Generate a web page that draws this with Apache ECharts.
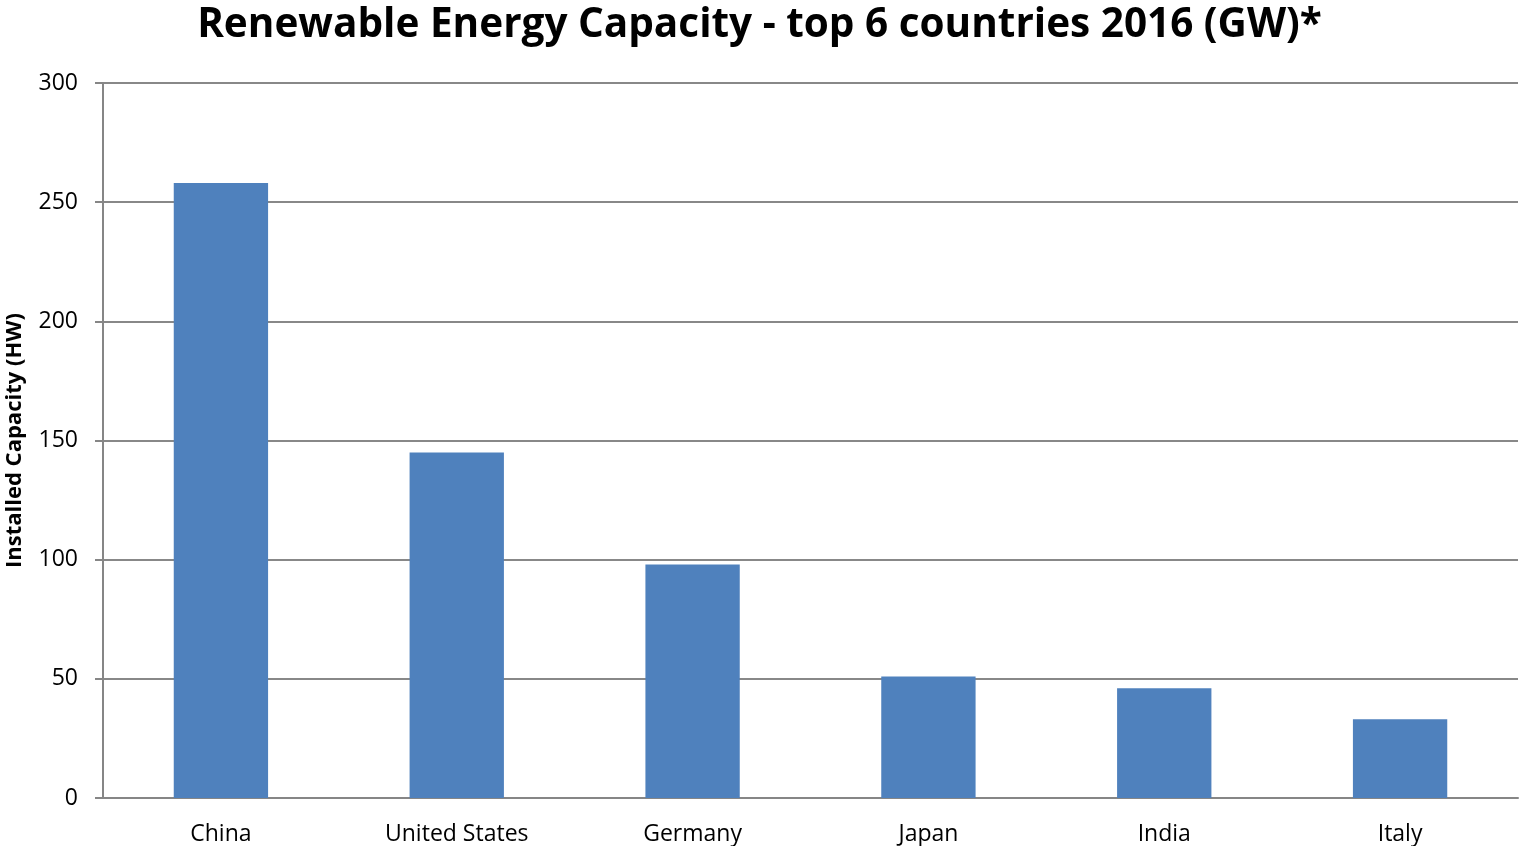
<!DOCTYPE html>
<html><head><meta charset="utf-8">
<script src="https://cdn.jsdelivr.net/npm/echarts@6/dist/echarts.min.js"></script>
<style>html,body{margin:0;padding:0;background:#fff}#c{width:1519px;height:846px}</style>
</head><body><div id="c"></div>
<script>
const categories = ["China", "United States", "Germany", "Japan", "India", "Italy"];
const capacity = [258, 145, 98, 51, 46, 33];
const yTicks = [0, 50, 100, 150, 200, 250, 300];

const chart = echarts.init(document.getElementById('c'));
const font = '"Open Sans", sans-serif';
chart.setOption({
  animation: false,
  title: {
    text: 'Renewable Energy Capacity - top 6 countries 2016 (GW)*',
    left: 'center', top: 0,
    textStyle: { fontFamily: font, fontWeight: 'bold', fontSize: 40.5, color: '#000' }
  },
  grid: { left: 103, right: 1, top: 83, bottom: 48, containLabel: false, outerBoundsMode: 'none' },
  xAxis: {
    type: 'category', data: categories,
    axisLine: { show: true, lineStyle: { color: '#868686', width: 2 } },
    axisTick: { show: false },
    axisLabel: { fontFamily: font, fontSize: 23, color: '#000', margin: 25 }
  },
  yAxis: {
    type: 'value', min: yTicks[0], max: yTicks[yTicks.length - 1], interval: 50,
    name: 'Installed Capacity (HW)', nameLocation: 'middle', nameGap: 77,
    nameTextStyle: { fontFamily: font, fontWeight: 'bold', fontSize: 22, color: '#000' },
    axisLine: { show: true, lineStyle: { color: '#868686', width: 2 } },
    axisTick: { show: true, length: 8, lineStyle: { color: '#868686', width: 2 } },
    axisLabel: { fontFamily: font, fontSize: 23, color: '#000', margin: 25 },
    splitLine: { show: true, lineStyle: { color: '#888888', width: 2 } }
  },
  series: [{
    type: 'bar', data: capacity, barWidth: '40%',
    itemStyle: { color: '#4F81BD' }
  }]
});
</script></body></html>
